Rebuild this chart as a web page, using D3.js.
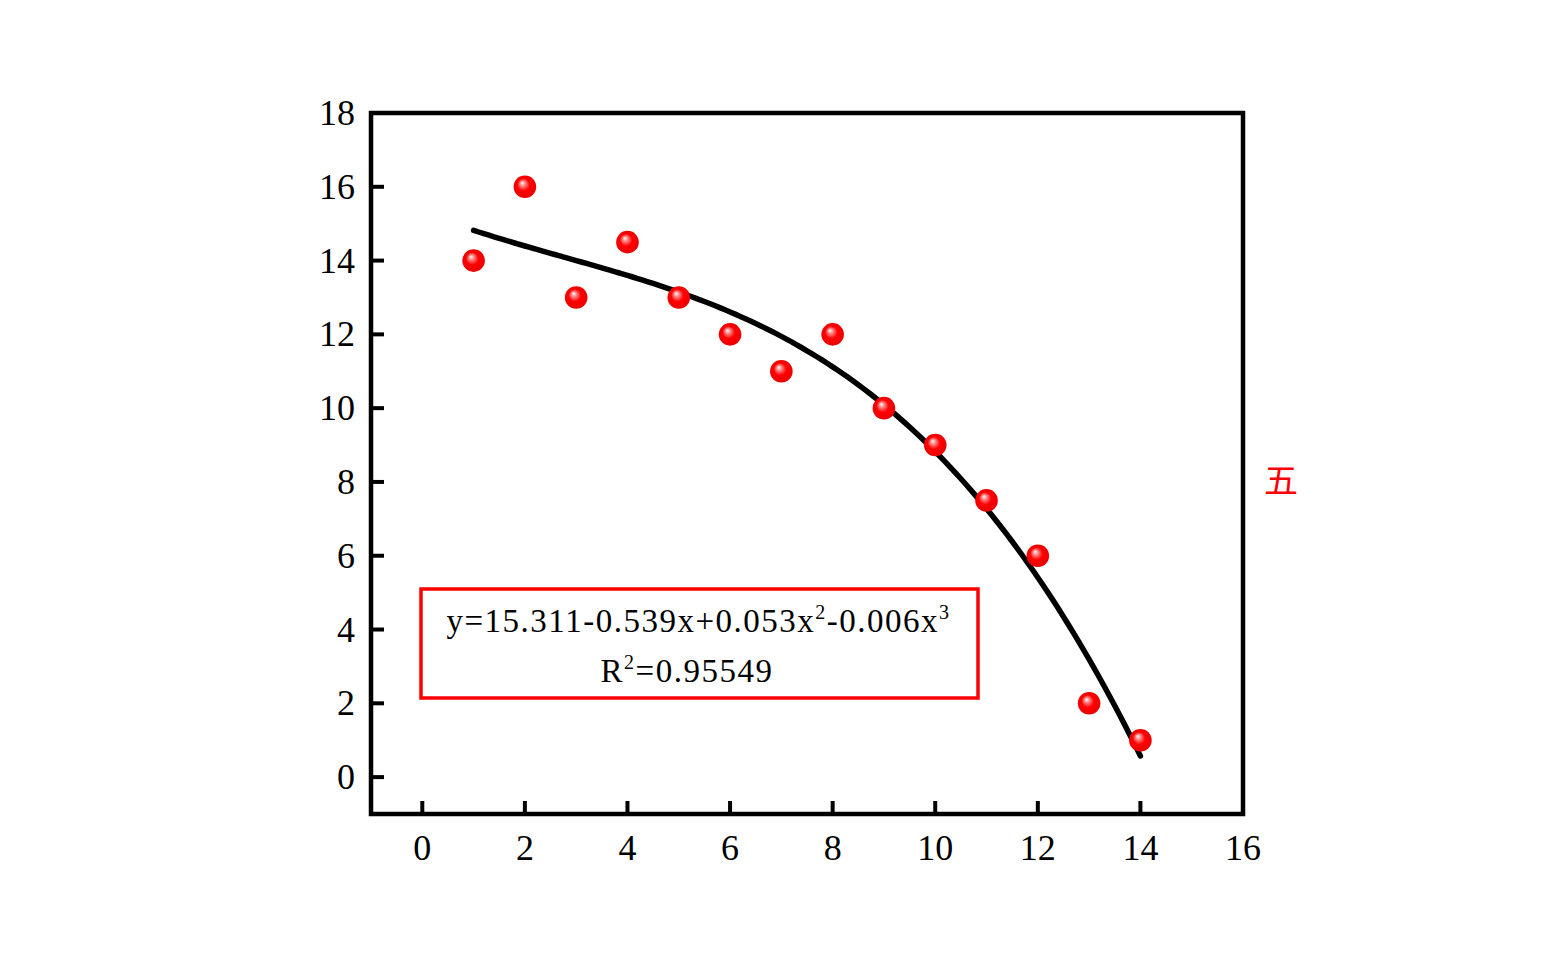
<!DOCTYPE html>
<html><head><meta charset="utf-8">
<script src="https://cdn.jsdelivr.net/npm/d3@7"></script>
<style>body{margin:0;background:#fff;} svg{display:block;}</style>
</head><body>
<svg id="c" width="1566" height="979"></svg>
<script>
const xData = [1,2,3,4,5,6,7,8,9,10,11,12,13,14];
const yData = [14,16,13,14.5,13,12,11,12,10,9,7.5,6,2,1];
const xTicks = [0,2,4,6,8,10,12,14,16];
const yTicks = [0,2,4,6,8,10,12,14,16,18];
const eqLine1 = ["y=15.311-0.539x+0.053x","2","-0.006x","3"];
const eqLine2 = ["R","2","=0.95549"];
const sideLabel = "五";

const svg = d3.select("#c");
const L=371,R=1243,T=113,B=814;
const x = d3.scaleLinear().domain([-1,16]).range([L,R]);
const y = d3.scaleLinear().domain([-1,18]).range([B,T]);
const font = "'Liberation Serif','Times New Roman',serif";

// cubic least squares fit of the data
function fit(xs, ys, deg){
  const n=deg+1;
  const A=[...Array(n)].map(()=>Array(n+1).fill(0));
  xs.forEach((xv,k)=>{
    for(let i=0;i<n;i++){
      for(let j=0;j<n;j++) A[i][j]+=Math.pow(xv,i+j);
      A[i][n]+=ys[k]*Math.pow(xv,i);
    }
  });
  for(let i=0;i<n;i++){
    let p=i; for(let r=i+1;r<n;r++) if(Math.abs(A[r][i])>Math.abs(A[p][i])) p=r;
    [A[i],A[p]]=[A[p],A[i]];
    for(let r=0;r<n;r++){ if(r===i) continue; const f=A[r][i]/A[i][i]; for(let c=i;c<=n;c++) A[r][c]-=f*A[i][c]; }
  }
  return A.map((row,i)=>row[n]/row[i]);
}
const coef = fit(xData,yData,3);
const poly = v => coef.reduce((s,c,i)=>s+c*Math.pow(v,i),0);
const curve = d3.range(0,131).map(i=>{const v=1+i*0.1; return [v, poly(v)];});

const defs = svg.append("defs");
const g = defs.append("radialGradient").attr("id","ball").attr("cx","0.5").attr("cy","0.5").attr("r","0.55").attr("fx","0.38").attr("fy","0.32");
g.append("stop").attr("offset","0").attr("stop-color","#ffffff");
g.append("stop").attr("offset","0.2").attr("stop-color","#ff8a8a");
g.append("stop").attr("offset","0.5").attr("stop-color","#ff0000");
g.append("stop").attr("offset","1").attr("stop-color","#e80000");

// ticks
const ax = svg.append("g");
ax.selectAll(".xt").data(xTicks).join("line")
  .attr("x1",d=>x(d)).attr("x2",d=>x(d)).attr("y1",B).attr("y2",B-13)
  .attr("stroke","#000").attr("stroke-width",4);
ax.selectAll(".yt").data(yTicks).join("line")
  .attr("y1",d=>y(d)).attr("y2",d=>y(d)).attr("x1",L).attr("x2",L+13)
  .attr("stroke","#000").attr("stroke-width",4);
ax.selectAll(".xl").data(xTicks).join("text")
  .attr("x",d=>x(d)).attr("y",B+46).attr("text-anchor","middle")
  .attr("font-family",font).attr("font-size",36).text(d=>d);
ax.selectAll(".yl").data(yTicks).join("text")
  .attr("x",L-16).attr("y",d=>y(d)+12).attr("text-anchor","end")
  .attr("font-family",font).attr("font-size",36).text(d=>d);

// curve
svg.append("path").datum(curve)
  .attr("d",d3.line().x(d=>x(d[0])).y(d=>y(d[1])).curve(d3.curveMonotoneX))
  .attr("fill","none").attr("stroke","#000").attr("stroke-width",5.5).attr("stroke-linecap","round");

// points
svg.selectAll(".pt").data(xData).join("circle")
  .attr("cx",d=>x(d)).attr("cy",(d,i)=>y(yData[i])).attr("r",11.3)
  .attr("fill","url(#ball)");

// frame
svg.append("rect").attr("x",L).attr("y",T).attr("width",R-L).attr("height",B-T)
  .attr("fill","none").attr("stroke","#000").attr("stroke-width",4.5);

// equation box
svg.append("rect").attr("x",421).attr("y",589).attr("width",557).attr("height",109)
  .attr("fill","none").attr("stroke","#ff0000").attr("stroke-width",3.5);
const t1 = svg.append("text").attr("x",698.5).attr("y",632).attr("text-anchor","middle")
  .attr("font-family",font).attr("font-size",33).attr("letter-spacing",1.5);
eqLine1.forEach((s,i)=>{
  const ts=t1.append("tspan").text(s);
  if(i%2===1) ts.attr("font-size",20).attr("dy",-13);
  else if(i>0) ts.attr("dy",13);
});
const t2 = svg.append("text").attr("x",687).attr("y",682).attr("text-anchor","middle")
  .attr("font-family",font).attr("font-size",33).attr("letter-spacing",1.5);
eqLine2.forEach((s,i)=>{
  const ts=t2.append("tspan").text(s);
  if(i===1) ts.attr("font-size",20).attr("dy",-13);
  else if(i>1) ts.attr("dy",13);
});

svg.append("text").attr("x",1281).attr("y",493).attr("text-anchor","middle")
  .attr("font-family","'Noto Sans CJK SC',sans-serif").attr("font-size",34).attr("fill","#ff0000").text(sideLabel);
</script>
</body></html>
